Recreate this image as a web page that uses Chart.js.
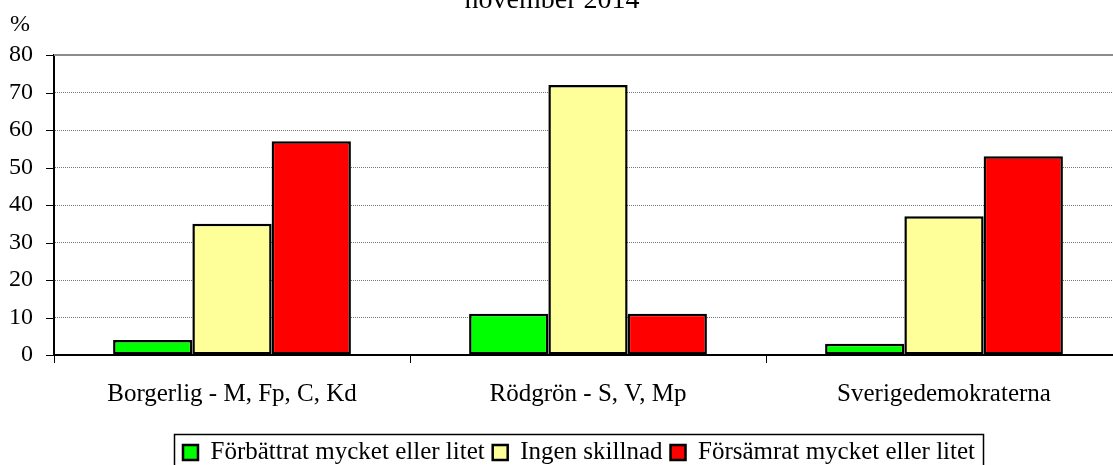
<!DOCTYPE html>
<html>
<head>
<meta charset="utf-8">
<script src="https://cdn.jsdelivr.net/npm/chart.js"></script>
<style>
  html, body { margin: 0; padding: 0; background: #fff; overflow: hidden; }
  .wrap { width: 1113px; height: 465px; overflow: hidden; }
  canvas { display: block; }
</style>
</head>
<body>
<div class="wrap"><canvas id="chart" width="1130" height="480"></canvas></div>
<script>
  // Dados do gráfico
  const titleText = 'november 2014';
  const unitLabel = '%';
  const categories = ['Borgerlig - M, Fp, C, Kd', 'Rödgrön - S, V, Mp', 'Sverigedemokraterna'];
  const seriesNames = ['Förbättrat mycket eller litet', 'Ingen skillnad', 'Försämrat mycket eller litet'];
  const forbattrat = [4, 11, 3];
  const ingenSkillnad = [35, 72, 37];
  const forsamrat = [57, 11, 53];
  const yTicks = [0, 10, 20, 30, 40, 50, 60, 70, 80];

  Chart.defaults.font.family = '"Liberation Serif", "Times New Roman", serif';
  Chart.defaults.color = '#000';

  // Título, unidade, linha superior, marcas do eixo y e moldura da legenda
  const extras = {
    id: 'extras',
    afterLayout(chart) {
      // desloca a legenda um pouco para a direita
      chart.legend.left += 18;
      chart.legend.right += 18;
    },
    afterDraw(chart) {
      const ctx = chart.ctx;
      const area = chart.chartArea;
      const ys = chart.scales.y;
      ctx.save();
      ctx.strokeStyle = '#8c8c8c';
      ctx.lineWidth = 2;
      ctx.beginPath();
      ctx.moveTo(area.left, area.top);
      ctx.lineTo(area.right, area.top);
      ctx.stroke();

      ctx.strokeStyle = '#000';
      ctx.lineWidth = 1;
      ys.ticks.forEach(t => {
        const py = Math.round(ys.getPixelForValue(t.value)) + 0.5;
        ctx.beginPath();
        ctx.moveTo(area.left - 8, py);
        ctx.lineTo(area.left, py);
        ctx.stroke();
      });

      ctx.fillStyle = '#000';
      ctx.font = '28px "Liberation Serif"';
      ctx.textAlign = 'center';
      ctx.textBaseline = 'alphabetic';
      ctx.fillText(titleText, 552, 8);
      ctx.font = '24px "Liberation Serif"';
      ctx.textAlign = 'left';
      ctx.fillText(unitLabel, 10, 31);

      const boxes = chart.legend.legendHitBoxes;
      if (boxes && boxes.length) {
        const first = boxes[0];
        const last = boxes[boxes.length - 1];
        const left = Math.round(first.left - 9) + 0.5;
        const right = Math.round(last.left + last.width + 8) + 0.5;
        const top = Math.round(chart.legend.top + 2) + 0.5;
        ctx.lineWidth = 1.5;
        ctx.strokeRect(left, top, right - left, 100);
      }
      ctx.restore();
    }
  };

  const ctx = document.getElementById('chart').getContext('2d');
  const chart = new Chart(ctx, {
    type: 'bar',
    data: {
      labels: categories,
      datasets: [
        { label: seriesNames[0], data: forbattrat, backgroundColor: '#00ff00' },
        { label: seriesNames[1], data: ingenSkillnad, backgroundColor: '#ffff99' },
        { label: seriesNames[2], data: forsamrat, backgroundColor: '#ff0000' }
      ]
    },
    options: {
      responsive: false,
      animation: false,
      layout: { padding: { left: 0, right: 8, top: 55, bottom: 5 } },
      datasets: {
        bar: {
          borderColor: '#000',
          borderWidth: 2.5,
          borderSkipped: false,
          barPercentage: 1,
          categoryPercentage: 0.668
        }
      },
      plugins: {
        tooltip: { enabled: false },
        title: { display: false },
        legend: {
          position: 'bottom',
          labels: { font: { size: 25 }, boxWidth: 15, boxHeight: 15, padding: 8 }
        }
      },
      scales: {
        x: {
          ticks: { padding: 16, font: { size: 25 } },
          grid: { drawOnChartArea: false, tickLength: 8, color: '#000', offset: true },
          border: { color: '#000', width: 2 },
          afterFit(scale) { scale.height = 77; }
        },
        y: {
          min: 0,
          max: 80,
          afterBuildTicks(scale) { scale.ticks = yTicks.map(v => ({ value: v })); },
          ticks: { padding: 21, font: { size: 24 } },
          grid: { color: '#777', drawTicks: false },
          border: { color: '#000', width: 2, dash: [1, 1] },
          afterFit(scale) { scale.width = 54; }
        }
      }
    },
    plugins: [extras]
  });
</script>
</body>
</html>
